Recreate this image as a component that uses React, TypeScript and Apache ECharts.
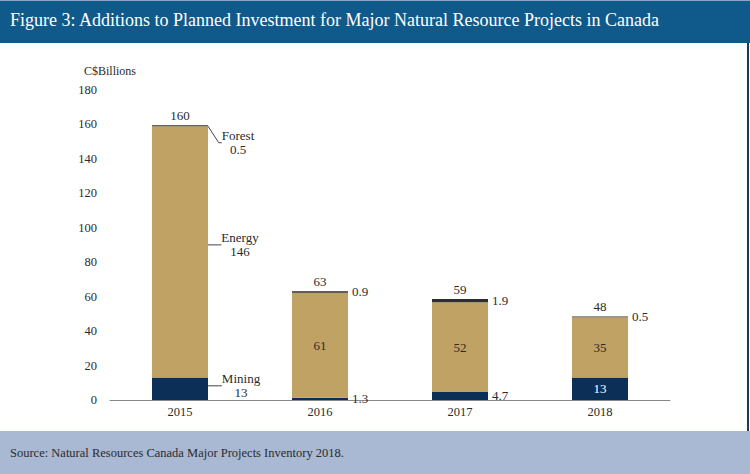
import React, { useEffect, useRef } from "react";
import * as echarts from "echarts";

const years = ["2015", "2016", "2017", "2018"];
const mining = [13, 1.3, 4.7, 13];
const energy = [146, 61, 52, 35];
const forest = [0.5, 0.9, 1.9, 0.5];
const totals = [160, 63, 59, 48];
const yTicks = [0, 20, 40, 60, 80, 100, 120, 140, 160, 180];

const FONT = "'Liberation Serif', 'DejaVu Serif', serif";
const TXT = "#2b2b2b";

export default function App() {
  const ref = useRef<HTMLDivElement>(null);
  useEffect(() => {
    document.body.style.margin = "0";
    const chart = echarts.init(ref.current!, null, { renderer: "svg" });

    const sideLabel = (name: string, val: number) => ({
      show: true,
      position: "right",
      distance: 0,
      align: "center",
      verticalAlign: "middle",
      formatter: name + "\n" + val,
      fontFamily: FONT,
      fontSize: 13,
      lineHeight: 14,
      color: TXT,
      textBorderWidth: 0,
    });
    const rightLabel = {
      show: true,
      position: "right",
      distance: 4,
      fontFamily: FONT,
      fontSize: 13,
      color: TXT,
      textBorderWidth: 0,
    };
    const insideLabel = (color: string) => ({
      show: true,
      position: "inside",
      fontFamily: FONT,
      fontSize: 13,
      color,
      textBorderWidth: 0,
    });

    const offsets: Record<string, [number, number]> = {
      "Mining-0": [33, -3],
      "Energy-0": [32, -7],
      "Forest-0": [30, 17],
    };

    const makeLayout = (seriesName: string) => (params: any) => {
      const o = offsets[seriesName + "-" + params.dataIndex];
      if (!o) return {};
      return { dx: o[0], dy: o[1] };
    };

    const guide = (show: boolean) => ({
      show,
      length2: 3,
      lineStyle: { color: "#444", width: 1 },
    });

    const miningData = mining.map((v, i) => ({
      value: v,
      label: i === 0 ? sideLabel("Mining", v) : i === 3 ? insideLabel("#ffffff") : rightLabel,
      labelLine: guide(i === 0),
    }));
    const energyData = energy.map((v, i) => ({
      value: v,
      label: i === 0 ? sideLabel("Energy", v) : insideLabel(TXT),
      labelLine: guide(i === 0),
    }));
    const forestData = forest.map((v, i) => ({
      value: v,
      label: i === 0 ? sideLabel("Forest", v) : rightLabel,
      labelLine: guide(i === 0),
    }));

    chart.setOption({
      animation: false,
      backgroundColor: "#ffffff",
      textStyle: { fontFamily: FONT },
      grid: { left: 110, right: 80, top: 90, bottom: 74 },
      xAxis: {
        type: "category",
        data: years,
        axisLine: { show: true, lineStyle: { color: "#888888", width: 1 } },
        axisTick: { show: false },
        axisLabel: { fontFamily: FONT, fontSize: 12.5, color: TXT, margin: 5 },
      },
      yAxis: {
        type: "value",
        min: yTicks[0],
        max: yTicks[yTicks.length - 1],
        interval: 20,
        name: "C$Billions",
        nameLocation: "end",
        nameGap: 13,
        nameTextStyle: { fontFamily: FONT, fontSize: 12, color: TXT, align: "center" },
        splitLine: { show: false },
        axisLine: { show: false },
        axisTick: { show: false },
        axisLabel: { fontFamily: FONT, fontSize: 12.5, color: TXT, margin: 13 },
      },
      series: [
        {
          name: "Mining",
          type: "bar",
          stack: "t",
          barWidth: 56,
          itemStyle: { color: "#0b2f57" },
          data: miningData,
          labelLayout: makeLayout("Mining"),
        },
        {
          name: "Energy",
          type: "bar",
          stack: "t",
          barWidth: 56,
          itemStyle: { color: "#c1a265" },
          data: energyData,
          labelLayout: makeLayout("Energy"),
        },
        {
          name: "Forest",
          type: "bar",
          stack: "t",
          barWidth: 56,
          itemStyle: { color: "#2e2e2e" },
          data: forestData,
          labelLayout: makeLayout("Forest"),
        },
        {
          name: "Total",
          type: "bar",
          stack: "t",
          barWidth: 56,
          itemStyle: { color: "rgba(0,0,0,0)" },
          data: totals.map(() => 0),
          label: {
            show: true,
            position: "top",
            distance: 3,
            fontFamily: FONT,
            fontSize: 13,
            color: TXT,
            textBorderWidth: 0,
            opacity: 1,
            formatter: (p: any) => String(totals[p.dataIndex]),
          },
          z: 5,
        },
      ],
      graphic: [
        { type: "rect", shape: { x: 0, y: 0, width: 750, height: 43 }, style: { fill: "#0f5a8b" } },
        { type: "rect", shape: { x: 0, y: 0, width: 750, height: 1 }, style: { fill: "#8aa7c4" } },
        {
          type: "text",
          left: 10,
          top: 11,
          style: {
            text: "Figure 3: Additions to Planned Investment for Major Natural Resource Projects in Canada",
            fill: "#ffffff",
            font: "18px " + FONT,
          },
        },
        { type: "rect", shape: { x: 747, y: 43, width: 2, height: 388 }, style: { fill: "#1b3a5c" } },
        { type: "rect", shape: { x: 0, y: 431, width: 750, height: 43 }, style: { fill: "#a9b8d3" } },
        {
          type: "text",
          left: 10,
          top: 446,
          style: {
            text: "Source: Natural Resources Canada Major Projects Inventory 2018.",
            fill: "#2b2b2b",
            font: "12.5px " + FONT,
          },
        },
      ],
    });
    return () => chart.dispose();
  }, []);
  return (
    <div
      ref={ref}
      style={{ width: 750, height: 474, position: "fixed", left: 0, top: 0 }}
    />
  );
}
